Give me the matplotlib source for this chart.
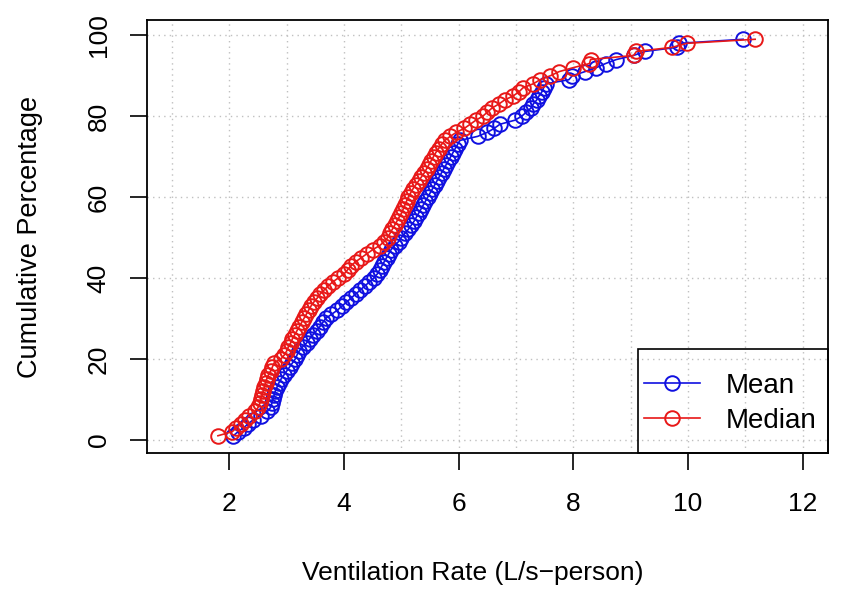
import numpy as np
import matplotlib
matplotlib.use("Agg")
import matplotlib.pyplot as plt
from matplotlib.patches import Rectangle

# ---------------------------
# DATA (ventilation rates, L/s-person, sorted)
# ---------------------------
vr_mean = [
    2.07, 2.15, 2.25, 2.33, 2.42, 2.55, 2.66, 2.72, 2.74, 2.76,
    2.78, 2.80, 2.83, 2.86, 2.90, 2.95, 3.00, 3.05, 3.10, 3.15,
    3.18, 3.22, 3.28, 3.35, 3.40, 3.46, 3.52, 3.58, 3.63, 3.68,
    3.78, 3.88, 3.96, 4.04, 4.12, 4.20, 4.28, 4.36, 4.44, 4.52,
    4.58, 4.62, 4.66, 4.70, 4.74, 4.78, 4.82, 4.88, 4.95, 5.00,
    5.06, 5.12, 5.17, 5.22, 5.26, 5.30, 5.34, 5.38, 5.42, 5.46,
    5.50, 5.54, 5.58, 5.62, 5.66, 5.70, 5.74, 5.78, 5.82, 5.86,
    5.90, 5.94, 5.98, 6.02, 6.33, 6.50, 6.62, 6.72, 6.98, 7.10,
    7.18, 7.26, 7.30, 7.36, 7.40, 7.45, 7.48, 7.52, 7.92, 7.98,
    8.20, 8.40, 8.56, 8.75, 9.05, 9.25, 9.80, 9.85, 10.96,
]

vr_median = [
    1.80, 2.05, 2.12, 2.20, 2.28, 2.35, 2.45, 2.50, 2.53, 2.55,
    2.57, 2.59, 2.61, 2.63, 2.65, 2.68, 2.72, 2.75, 2.78, 2.90,
    2.96, 3.00, 3.03, 3.07, 3.10, 3.14, 3.18, 3.22, 3.26, 3.30,
    3.34, 3.38, 3.42, 3.47, 3.53, 3.58, 3.65, 3.72, 3.80, 3.90,
    4.00, 4.06, 4.12, 4.20, 4.30, 4.40, 4.50, 4.62, 4.70, 4.76,
    4.80, 4.84, 4.88, 4.92, 4.96, 5.00, 5.03, 5.06, 5.09, 5.12,
    5.16, 5.20, 5.25, 5.30, 5.35, 5.40, 5.44, 5.48, 5.52, 5.56,
    5.60, 5.65, 5.70, 5.76, 5.85, 5.96, 6.10, 6.20, 6.30, 6.42,
    6.50, 6.58, 6.70, 6.80, 6.95, 7.05, 7.12, 7.30, 7.42, 7.60,
    7.75, 8.00, 8.28, 8.30, 9.05, 9.10, 9.72, 9.98, 11.17,
]

x_ticks = [2, 4, 6, 8, 10, 12]
y_ticks = [0, 20, 40, 60, 80, 100]


def cum_pct(values):
    n = len(values)
    return [100.0 * (i + 1) / (n + 1) for i in range(n)]


# ---------------------------
# FIGURE
# ---------------------------
plt.rcParams['font.family'] = ['Liberation Sans', 'DejaVu Sans']

fig = plt.figure(figsize=(8.44, 6.14), dpi=100)
ax = fig.add_axes([0.174, 0.262, 0.807, 0.705])

# grid
for gx in range(1, 13):
    ax.axvline(gx, color='#c0c0c0', lw=1.0, ls=(0, (1, 3)), zorder=0)
for gy in y_ticks:
    ax.axhline(gy, color='#c0c0c0', lw=1.0, ls=(0, (1, 3)), zorder=0)

ax.plot(vr_mean, cum_pct(vr_mean), color='#1010e0', marker='o', ms=10.5,
        mfc='none', mew=1.4, lw=1.2, label='Mean')
ax.plot(vr_median, cum_pct(vr_median), color='#e81818', marker='o', ms=10.5,
        mfc='none', mew=1.4, lw=1.2, label='Median')

ax.set_xlim(0.56, 12.44)
ax.set_ylim(-3.3, 103.7)
ax.set_xticks(x_ticks)
ax.set_yticks(y_ticks)
ax.set_yticklabels([str(v) for v in y_ticks], rotation=90, va='center')
ax.tick_params(labelsize=19, length=12, width=1.2)
ax.tick_params(axis='x', pad=16)
ax.tick_params(axis='y', pad=14)
for s in ax.spines.values():
    s.set_linewidth(1.3)

ax.set_xlabel("Ventilation Rate (L/s\u2212person)", fontsize=19, va='center')
ax.set_ylabel("Cumulative Percentage", fontsize=19.5, va='center')
ax.xaxis.set_label_coords(0.479, -0.277)
ax.yaxis.set_label_coords(-0.172, 0.5)

# legend: R style box in the bottom right corner, no fill
ax.add_patch(Rectangle((0.721, 0.0), 0.279, 0.240, transform=ax.transAxes,
                       fill=False, edgecolor='black', lw=1.2, zorder=5,
                       clip_on=False))
leg = ax.legend(loc='center', bbox_to_anchor=(0.857, 0.115), fontsize=20,
                frameon=False, borderpad=0, handlelength=2.0,
                labelspacing=0.32, handletextpad=0.95)

plt.savefig("out.png", dpi=100)
